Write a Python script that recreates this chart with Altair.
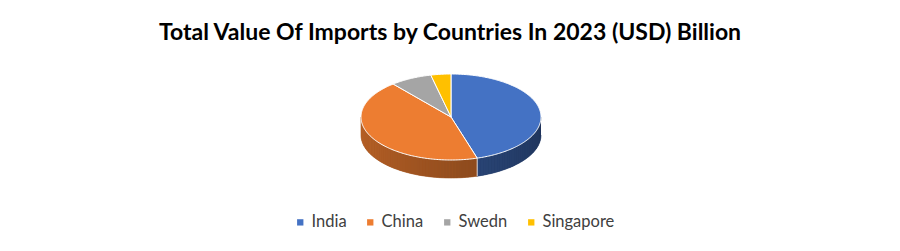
import numpy as np
import pandas as pd
import altair as alt

# ---- data ----
countries = ["India", "China", "Swedn", "Singapore"]
values = [45.3, 43.6, 7.5, 3.6]
colors = ["#4472C4", "#ED7D31", "#A5A5A5", "#FFC000"]
title_text = "Total Value Of Imports by Countries In 2023 (USD) Billion"

# ---- layout (pixels) ----
W = 900
PAD_TOP, PAD_BOTTOM = 50, 45
H = 251 - PAD_TOP - PAD_BOTTOM
CX, CY, R = 451, 117 - PAD_TOP, 90     # pie centre within the view, radius
TILT = 43 / 90                          # vertical squash of the top ellipse
DEPTH = 18 / 90                         # thickness of the pie

x_dom = [-CX / R, (W - CX) / R]
y_dom = [-(H - CY) / R, CY / R]

total = sum(values)
bounds = np.concatenate([[0], np.cumsum(values) / total * 360.0])


def pt(t, drop=0.0):
    r = np.radians(t)
    return np.sin(r), np.cos(r) * TILT - drop


def shade_at(rgb, t):
    f = 0.45 + (t - 90.0) / 180.0 * 0.35
    r, g, b = [int(rgb[i:i + 2], 16) for i in (1, 3, 5)]
    return "#%02x%02x%02x" % tuple(min(255, int(round(c * f))) for c in (r, g, b))


# top faces
top_rows = []
for k, c in enumerate(countries):
    a, b = bounds[k], bounds[k + 1]
    n = max(2, int(np.ceil(b - a)) + 1)
    seq = [(0.0, 0.0)] + [pt(t) for t in np.linspace(a, b, n)] + [(0.0, 0.0)]
    for i, (x, y) in enumerate(seq):
        top_rows.append({"country": c, "i": i, "x": x, "y": y})
top_df = pd.DataFrame(top_rows)

# front walls: one base polygon per slice, then shaded strips over it
base_rows, wall_rows, edge_rows = [], [], []
pid = 0
for k, c in enumerate(countries):
    a, b = max(bounds[k], 90.0), min(bounds[k + 1], 270.0)
    if b <= a:
        continue
    fine = np.linspace(a, b, max(2, int(np.ceil(b - a)) + 1))
    outline = [pt(t) for t in fine] + [pt(t, DEPTH) for t in fine[::-1]]
    for i, (x, y) in enumerate(outline):
        base_rows.append({"pid": k, "i": i, "x": x, "y": y,
                          "shade": shade_at(colors[k], (a + b) / 2)})
    n = max(1, int(np.ceil((b - a) / 2.0)))
    ts = np.linspace(a, b, n + 1)
    for t0, t1 in zip(ts[:-1], ts[1:]):
        shade = shade_at(colors[k], (t0 + t1) / 2)
        poly = [pt(t0), pt(t1), pt(t1, DEPTH), pt(t0, DEPTH)]
        for i, (x, y) in enumerate(poly):
            wall_rows.append({"pid": pid, "i": i, "x": x, "y": y, "shade": shade})
        pid += 1
for t in bounds:
    if 90.0 < t < 270.0:
        for i, d in enumerate([0.0, DEPTH]):
            x, y = pt(t, d)
            edge_rows.append({"eid": float(t), "i": i, "x": x, "y": y})
base_df = pd.DataFrame(base_rows)
wall_df = pd.DataFrame(wall_rows)
edge_df = pd.DataFrame(edge_rows)

X = alt.X("x:Q", scale=alt.Scale(domain=x_dom, nice=False, zero=False), axis=None)
Y = alt.Y("y:Q", scale=alt.Scale(domain=y_dom, nice=False, zero=False), axis=None)

base = alt.Chart(base_df).mark_line(filled=True, strokeWidth=0.6).encode(
    x=X, y=Y, detail="pid:N", order="i:Q",
    fill=alt.Fill("shade:N", scale=None),
    stroke=alt.Stroke("shade:N", scale=None),
)

walls = alt.Chart(wall_df).mark_line(filled=True, strokeWidth=0).encode(
    x=X, y=Y, detail="pid:N", order="i:Q",
    fill=alt.Fill("shade:N", scale=None),
)

edges = alt.Chart(edge_df).mark_line(color="white", strokeWidth=1, opacity=0.8).encode(
    x=X, y=Y, detail="eid:N", order="i:Q"
)

top = alt.Chart(top_df).mark_line(
    filled=True, stroke="white", strokeWidth=1, strokeJoin="round"
).encode(
    x=X, y=Y, detail="country:N", order="i:Q",
    color=alt.Color(
        "country:N",
        scale=alt.Scale(domain=countries, range=colors),
        sort=countries,
        legend=alt.Legend(
            title=None, orient="none", legendX=292, legendY=164,
            direction="horizontal", symbolType="square", symbolSize=40,
            symbolStrokeWidth=0, labelFont="Lato", labelFontSize=16.5,
            labelColor="#404040", columnPadding=15, labelOffset=3, padding=0,
        ),
    ),
)

chart = alt.layer(base, walls, edges, top).properties(
    width=W, height=H,
    padding={"top": PAD_TOP, "bottom": PAD_BOTTOM, "left": 0, "right": 0},
    autosize=alt.AutoSizeParams(type="none"),
    background="white",
    title=alt.Title(title_text, font="Lato", fontSize=23, fontWeight="bold",
                    color="black", anchor="middle", frame="group", offset=5),
).configure_view(stroke=None)

chart.save("out.html", embed_options={"renderer": "svg", "actions": False})
